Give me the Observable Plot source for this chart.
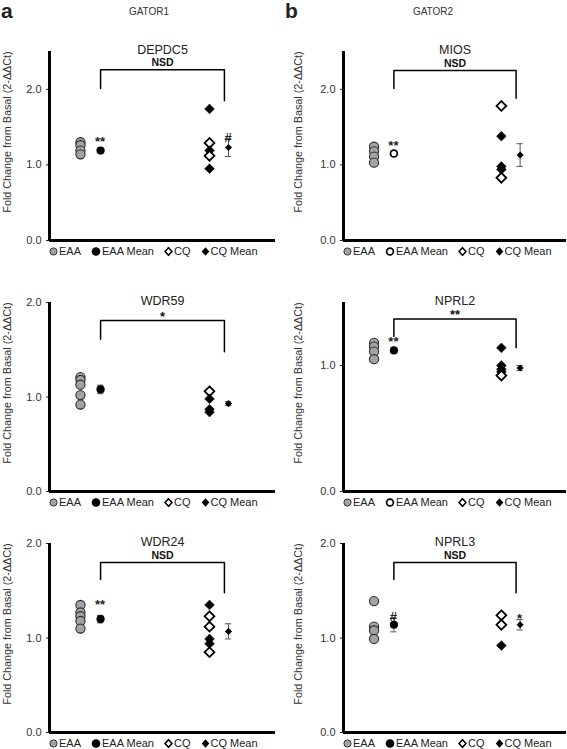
<!DOCTYPE html>
<html><head><meta charset="utf-8">
<script src="https://cdn.jsdelivr.net/npm/d3@7"></script>
<script src="https://cdn.jsdelivr.net/npm/@observablehq/plot@0.6"></script>
<style>
body{margin:0;background:#fff;}
#fig{position:relative;width:567px;height:749px;font-family:"Liberation Sans",Arial,sans-serif;color:#222;overflow:hidden;background:#fff}
.abs{position:absolute}
.lab{font-weight:bold;font-size:21px;line-height:24px}
.grp{font-size:10px;line-height:10px;transform:translateX(-50%);color:#333}
.leg{display:flex;align-items:center;font-size:11px;line-height:11px;white-space:nowrap;color:#222;transform:translateY(-50%)}
.leg .item{display:flex;align-items:center;margin-right:10px}
.leg svg{display:block;margin-right:1px}
</style></head>
<body>
<div id="fig"></div>
<script>
// ---------- data ----------
const genes = ["DEPDC5", "MIOS", "WDR59", "NPRL2", "WDR24", "NPRL3"];
const groupTitles = ["GATOR1", "GATOR2"];
const panelLetters = ["a", "b"];
const yMax = [2.5, 2.5, 2.0, 1.5, 2.0, 2.0];
const yTicks = [[0, 1, 2], [0, 1, 2], [0, 1, 2], [0, 1], [0, 1, 2], [0, 1, 2]];

const eaaValues = [
  [1.30, 1.26, 1.19, 1.14],
  [1.24, 1.18, 1.11, 1.03],
  [1.21, 1.18, 1.13, 1.02, 0.92],
  [1.18, 1.15, 1.11, 1.05],
  [1.35, 1.27, 1.23, 1.18, 1.10],
  [1.39, 1.12, 1.08, 0.99]
];
const eaaMean = [1.19, 1.15, 1.08, 1.12, 1.20, 1.14];
const eaaErr = [0.03, 0.03, 0.045, 0.02, 0.04, 0.075];
const eaaMeanOpen = [false, true, false, false, false, false];
const legendMeanOpen = [false, true, false, true, false, false];

const cqValues = [
  [1.74, 1.29, 1.19, 1.12, 0.95],
  [1.78, 1.38, 0.98, 0.94, 0.83],
  [1.06, 0.98, 0.87, 0.84],
  [1.14, 1.00, 0.97, 0.95, 0.92],
  [1.35, 1.23, 1.12, 0.99, 0.94, 0.85],
  [1.24, 1.14, 0.92]
];
const cqOpen = [
  [false, true, false, true, false],
  [true, false, false, false, true],
  [true, false, false, false],
  [false, false, false, false, true],
  [false, true, true, false, false, true],
  [true, true, false]
];
const cqMean = [1.23, 1.13, 0.93, 0.98, 1.07, 1.14];
const cqErr = [0.12, 0.15, 0.02, 0.02, 0.08, 0.055];

const bracketTop = [2.26, 2.25, 1.81, 1.37, 1.80, 1.80];
const bracketLeftEnd = [2.01, 2.01, 1.61, 1.23, 1.62, 1.62];
const bracketRightEnd = [1.85, 1.88, 1.48, 1.14, 1.48, 1.48];
const bracketLabel = ["NSD", "NSD", "*", "**", "NSD", "NSD"];
const eaaNote = ["**", "**", "", "**", "**", "#"];
const cqNote = ["#", "", "", "", "", "*"];

const yLabel = "Fold Change from Basal (2-ΔΔCt)";
const legendLabels = ["EAA", "EAA Mean", "CQ", "CQ Mean"];

// ---------- layout ----------
const X = {eaa: 1.37, eaaMean: 2.26, cq: 7.08, cqMean: 7.92, bracketRight: 7.74, cap: 0.14};
const colLeft = [0, 283];
const colWidth = [283, 284];
const colMarginLeft = [49, 60];
const colMarginRight = [8, 1];
const rowFrameTop = [51, 302, 543];
const frameH = 189;
const mTop = 20, mBottom = 4;
const FONT = "Liberation Sans, Arial, sans-serif";

const fig = document.getElementById("fig");

function add(html, cls, left, top) {
  const d = document.createElement("div");
  d.className = "abs " + cls;
  d.style.left = left + "px";
  d.style.top = top + "px";
  d.innerHTML = html;
  fig.appendChild(d);
  return d;
}

// headers
add(panelLetters[0], "lab", 1, -1);
add(panelLetters[1], "lab", 285, -1);
add(groupTitles[0], "grp", 149, 7);
add(groupTitles[1], "grp", 433, 7);

function symbol(kind, open) {
  if (kind === "gray") return `<svg width="9" height="10"><circle cx="4.5" cy="5" r="3.6" fill="#a3a3a3" stroke="#333" stroke-width="1"/></svg>`;
  if (kind === "circle") return open
    ? `<svg width="10" height="10"><circle cx="5" cy="5" r="3.4" fill="#fff" stroke="#000" stroke-width="1.7"/></svg>`
    : `<svg width="10" height="10"><circle cx="5" cy="5" r="4.3" fill="#000"/></svg>`;
  if (kind === "diamond") return open
    ? `<svg width="9" height="10"><polygon points="4.5,1.2 8,5 4.5,8.8 1,5" fill="#fff" stroke="#000" stroke-width="1.5"/></svg>`
    : `<svg width="9" height="10"><polygon points="4.5,0.8 8.3,5 4.5,9.2 0.7,5" fill="#000"/></svg>`;
}

for (let i = 0; i < genes.length; i++) {
  const col = i % 2, row = Math.floor(i / 2);
  const width = colWidth[col];
  const ml = colMarginLeft[col];
  const top = rowFrameTop[row] - mTop;

  const eaaPts = eaaValues[i].map(v => ({x: X.eaa, y: v}));
  const cqPts = cqValues[i].map((v, j) => ({x: X.cq, y: v, open: cqOpen[i][j]}));
  const errs = [
    {x: X.eaaMean, m: eaaMean[i], e: eaaErr[i]},
    {x: X.cqMean, m: cqMean[i], e: cqErr[i]}
  ];
  const caps = errs.flatMap(d => [d.m - d.e, d.m + d.e].map(y => ({y, x1: d.x - X.cap, x2: d.x + X.cap})));
  const bracket = [
    {x: X.eaaMean, y: bracketLeftEnd[i]},
    {x: X.eaaMean, y: bracketTop[i]},
    {x: X.bracketRight, y: bracketTop[i]},
    {x: X.bracketRight, y: bracketRightEnd[i]}
  ];
  const notes = [];
  if (eaaNote[i]) {
    notes.push({x: X.eaaMean, y: eaaNote[i] === "**" ? d3.max(eaaValues[i]) : eaaMean[i] + eaaErr[i], t: eaaNote[i], dy: eaaNote[i] === "**" ? 2 : (eaaNote[i] === "#" ? -8 : -3)});
  }
  if (cqNote[i]) {
    notes.push({x: X.cqMean, y: cqMean[i] + cqErr[i], t: cqNote[i], dy: cqNote[i] === "#" ? -8 : -3});
  }
  const isStarLabel = bracketLabel[i].includes("*");

  const chart = Plot.plot({
    width, height: mTop + frameH + mBottom,
    marginTop: mTop, marginBottom: mBottom, marginLeft: ml, marginRight: colMarginRight[col],
    x: {domain: [0, 10], axis: null},
    y: {domain: [0, yMax[i]]},
    style: {fontFamily: FONT, background: "transparent", overflow: "visible"},
    marks: [
      Plot.axisY({ticks: yTicks[i], tickSize: 3, tickPadding: 5, tickFormat: d3.format(".1f"), fontSize: 11, fill: "#333", stroke: "#222", label: null}),
      Plot.text([yLabel], {frameAnchor: "left", text: d => d, textAnchor: "middle", rotate: -90, dx: col ? -45 : -42, dy: -14, fontSize: 10.8, fill: "#333"}),
      Plot.text([genes[i]], {frameAnchor: "top", text: d => d, dy: -6, fontSize: 12.5, fill: "#222"}),
      Plot.line(bracket, {x: "x", y: "y", stroke: "#000", strokeWidth: 1.5}),
      Plot.text([bracketLabel[i]], {x: (X.eaaMean + X.bracketRight) / 2, y: bracketTop[i], text: d => d, dy: isStarLabel ? -4 : -7, fontSize: isStarLabel ? 13 : 10.5, fontWeight: "bold", fill: "#111"}),
      Plot.ruleX(errs, {x: "x", y1: d => d.m - d.e, y2: d => d.m + d.e, stroke: "#555", strokeWidth: 1}),
      Plot.ruleY(caps, {y: "y", x1: "x1", x2: "x2", stroke: "#555", strokeWidth: 1}),
      Plot.dot(eaaPts, {x: "x", y: "y", r: 4.6, fill: "#a3a3a3", stroke: "#2a2a2a", strokeWidth: 1.1}),
      Plot.dot([eaaMean[i]], {x: X.eaaMean, y: d => d, r: eaaMeanOpen[i] ? 3.4 : 4.1, fill: eaaMeanOpen[i] ? "#fff" : "#000", stroke: "#000", strokeWidth: eaaMeanOpen[i] ? 1.7 : 0}),
      Plot.dot(cqPts, {x: "x", y: "y", symbol: "diamond2", r: 4.4, fill: d => d.open ? "#fff" : "#000", stroke: "#000", strokeWidth: d => d.open ? 1.8 : 0.5}),
      Plot.dot([cqMean[i]], {x: X.cqMean, y: d => d, symbol: "diamond2", r: 3.2, fill: "#000"}),
      Plot.text(notes, {x: "x", y: "y", text: "t", dy: "dy", fontSize: 13, fontWeight: "bold", fill: "#222"}),
      Plot.ruleX([0], {stroke: "#000", strokeWidth: 3}),
      Plot.ruleY([0], {stroke: "#000", strokeWidth: 3})
    ]
  });
  chart.style.position = "absolute";
  chart.style.left = colLeft[col] + "px";
  chart.style.top = top + "px";
  fig.appendChild(chart);

  // legend
  const kinds = [["gray", false], ["circle", legendMeanOpen[i]], ["diamond", true], ["diamond", false]];
  const html = legendLabels.map((l, k) => `<span class="item">${symbol(kinds[k][0], kinds[k][1])}<span>${l}</span></span>`).join("");
  add(html, "leg", colLeft[col] + ml, rowFrameTop[row] + frameH + 11);
}
</script>
</body></html>
